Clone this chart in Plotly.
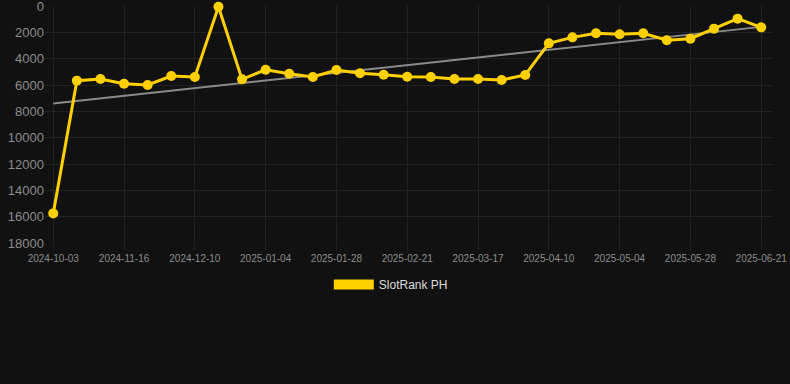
import numpy as np
import plotly.graph_objects as go

dates = ["2024-10-03", "2024-10-31", "2024-11-08", "2024-11-16", "2024-11-24", "2024-12-02",
         "2024-12-10", "2024-12-18", "2024-12-26", "2025-01-04", "2025-01-12", "2025-01-20",
         "2025-01-28", "2025-02-05", "2025-02-13", "2025-02-21", "2025-03-01", "2025-03-09",
         "2025-03-17", "2025-03-25", "2025-04-02", "2025-04-10", "2025-04-18", "2025-04-26",
         "2025-05-04", "2025-05-12", "2025-05-20", "2025-05-28", "2025-06-05", "2025-06-13",
         "2025-06-21"]
rank = [15750, 5670, 5540, 5900, 6000, 5315, 5390, 50, 5570, 4840, 5140, 5390,
        4860, 5110, 5215, 5370, 5390, 5540, 5540, 5620, 5240, 2835, 2380, 2075,
        2150, 2075, 2605, 2480, 1720, 960, 1620]
tick_labels = dates[::3]
y_ticks = [0, 2000, 4000, 6000, 8000, 10000, 12000, 14000, 16000, 18000]
y_tick_text = [str(v) for v in y_ticks]

idx = np.arange(len(rank))
slope, intercept = np.polyfit(idx, rank, 1)
trend = list(slope * idx + intercept)

gold = "#FFD000"
fig = go.Figure()
fig.add_trace(go.Scatter(x=dates, y=trend, mode="lines",
                         line=dict(color="#8a8a8a", width=2), showlegend=False, hoverinfo="skip"))
fig.add_trace(go.Scatter(x=dates, y=rank, mode="lines+markers", name="SlotRank PH",
                         line=dict(color=gold, width=3), marker=dict(color=gold, size=10),
                         showlegend=False, cliponaxis=False))
fig.add_trace(go.Scatter(x=[None], y=[None], mode="lines", name="SlotRank PH",
                         line=dict(color=gold, width=12), showlegend=True))

fig.update_layout(
    width=790, height=384,
    paper_bgcolor="#111111", plot_bgcolor="#111111",
    margin=dict(l=45, r=17, t=6, b=141),
    font=dict(family="Liberation Sans, Arial, sans-serif", color="#8c8c8c"),
    xaxis=dict(type="category", range=[-0.35, 30.5], tickmode="array",
               tickvals=tick_labels, ticktext=tick_labels, automargin=False,
               showgrid=True, gridcolor="#222222", gridwidth=1,
               tickfont=dict(size=10, color="#8c8c8c"),
               showline=False, zeroline=False, ticks="outside", ticklen=6, tickcolor="#222222"),
    yaxis=dict(range=[18000, -1], tickmode="array", tickvals=y_ticks, ticktext=y_tick_text,
               showgrid=True, gridcolor="#222222", ticklabeloverflow="allow", automargin=False,
               tickfont=dict(size=13, color="#8c8c8c"), zeroline=False, ticks=""),
    legend=dict(orientation="h", x=0.475, xanchor="center", y=-0.114, yanchor="top",
                font=dict(size=12, color="#dddddd"), bgcolor="rgba(0,0,0,0)", itemwidth=40),
)
fig.write_html("out.html", config={"displayModeBar": False},
               post_script="document.body.style.margin='0';")
